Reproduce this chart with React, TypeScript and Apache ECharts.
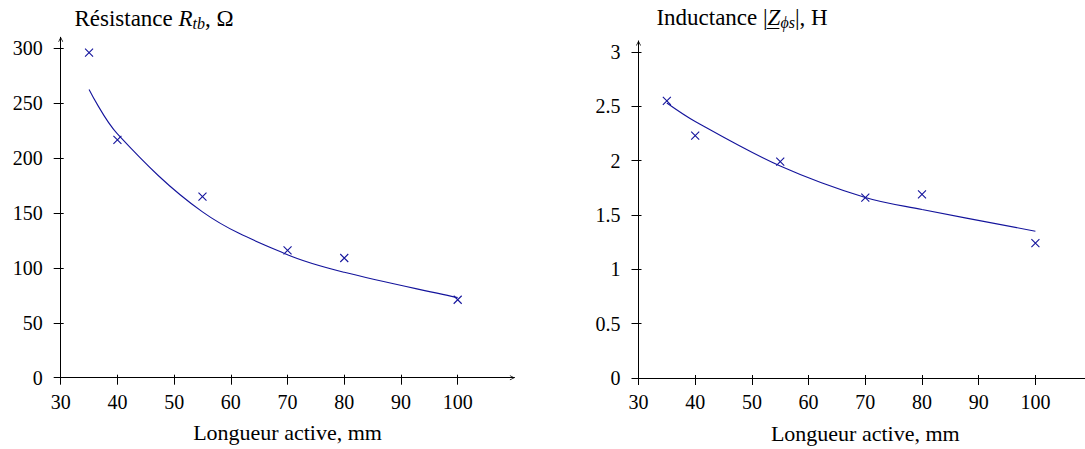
import React, { useEffect, useRef } from "react";
import * as echarts from "echarts";

// ---- data ----
const lengths = [35, 40, 55, 70, 80, 100];
const resistanceMeasured = [296, 216.5, 165, 116, 109, 71];
const resistanceFit = [262.5, 222, 151, 112, 96, 73];
const inductanceMeasured = [2.55, 2.23, 1.99, 1.66, 1.69, 1.24];
const inductanceFit = [2.53, 2.36, 1.95, 1.66, 1.55, 1.35];
const xTicks = [30, 40, 50, 60, 70, 80, 90, 100];
const rTicks = [0, 50, 100, 150, 200, 250, 300];
const lTicks = [0, 0.5, 1, 1.5, 2, 2.5, 3];
const xName = "Longueur active, mm";

const FONT = "'Liberation Serif', 'Times New Roman', serif";
const BLUE = "#14149c";
const ARROW = "path://M0,10L5,0L10,10L8.4,10L5,3L1.6,10Z";
const CROSS = "path://M0,0L10,10M10,0L0,10";
const CHART_W = 1100;
const TITLE_SIZE = 23;
const SUB_SIZE = 16;

function xAxes(gridIndex: number) {
  const base: any = {
    type: "value",
    gridIndex,
    min: 30,
    max: 110,
    position: "bottom",
    splitLine: { show: false },
  };
  return [
    {
      ...base,
      axisLine: {
        show: true,
        onZero: false,
        lineStyle: { color: "#000", width: 1 },
        symbol: ["none", ARROW],
        symbolSize: [7, 5],
        symbolOffset: [0, -2],
      },
      axisTick: { show: true, inside: false, length: 7, customValues: xTicks, lineStyle: { color: "#000", width: 1 } },
      axisLabel: { customValues: xTicks, margin: 14, fontFamily: FONT, fontSize: 20, lineHeight: 20, color: "#000" },
      name: xName,
      nameLocation: "middle",
      nameGap: 44,
      nameTextStyle: { fontFamily: FONT, fontSize: 22, lineHeight: 22, color: "#000" },
    },
    {
      ...base,
      axisLine: { show: false, onZero: false },
      axisTick: { show: true, inside: true, length: 3, customValues: xTicks, lineStyle: { color: "#000", width: 1 } },
      axisLabel: { show: false },
    },
  ];
}

function yAxes(gridIndex: number, max: number, ticks: number[]) {
  const base: any = {
    type: "value",
    gridIndex,
    min: 0,
    max,
    position: "left",
    splitLine: { show: false },
  };
  return [
    {
      ...base,
      axisLine: {
        show: true,
        onZero: false,
        lineStyle: { color: "#000", width: 1 },
        symbol: ["none", ARROW],
        symbolSize: [7, 5],
        symbolOffset: [0, -2],
      },
      axisTick: { show: true, inside: false, length: 7, customValues: ticks, lineStyle: { color: "#000", width: 1 } },
      axisLabel: { customValues: ticks, margin: 18, fontFamily: FONT, fontSize: 20, lineHeight: 20, color: "#000" },
    },
    {
      ...base,
      axisLine: { show: false, onZero: false },
      axisTick: { show: true, inside: true, length: 3, customValues: ticks, lineStyle: { color: "#000", width: 1 } },
      axisLabel: { show: false },
    },
  ];
}

function fitSeries(axisIndex: number, values: number[]) {
  return {
    type: "line",
    xAxisIndex: axisIndex,
    yAxisIndex: axisIndex,
    data: lengths.map((x, i) => [x, values[i]]),
    smooth: 0.35,
    symbol: "none",
    showSymbol: false,
    lineStyle: { color: BLUE, width: 1.1 },
    silent: true,
  };
}

function markSeries(axisIndex: number, values: number[]) {
  return {
    type: "scatter",
    xAxisIndex: axisIndex,
    yAxisIndex: axisIndex,
    data: lengths.map((x, i) => [x, values[i]]),
    symbol: CROSS,
    symbolSize: 8,
    itemStyle: { color: "rgba(0,0,0,0)", borderColor: BLUE, borderWidth: 1.1, opacity: 1 },
    silent: true,
  };
}

const richBase: any = {
  n: { fontFamily: FONT, fontSize: TITLE_SIZE, color: "#000" },
  i: { fontFamily: FONT, fontSize: TITLE_SIZE, fontStyle: "italic", color: "#000" },
  s: { fontFamily: FONT, fontSize: SUB_SIZE, fontStyle: "italic", color: "#000", padding: [10, 0, 0, 0] },
};

function measure(text: string, size: number, italic: boolean): number {
  const c = document.createElement("canvas").getContext("2d");
  if (!c) return text.length * size * 0.5;
  c.font = `${italic ? "italic " : ""}${size}px ${FONT}`;
  return c.measureText(text).width;
}

export default function App() {
  const ref = useRef<HTMLDivElement>(null);

  useEffect(() => {
    if (!ref.current) return;
    const chart = echarts.init(ref.current, undefined, { renderer: "svg" });

    // position of the underlined Z in the right title
    const rightCenter = 742;
    const p1 = "Inductance |";
    const p2 = "Z";
    const p3 = "ϕs";
    const p4 = "|, H";
    const w1 = measure(p1, TITLE_SIZE, false);
    const w2 = measure(p2, TITLE_SIZE, true);
    const w3 = measure(p3, SUB_SIZE, true);
    const w4 = measure(p4, TITLE_SIZE, false);
    const total = w1 + w2 + w3 + w4;
    const zStart = rightCenter - total / 2 + w1;

    const option: any = {
      animation: false,
      backgroundColor: "#fff",
      grid: [
        { left: 60.7, right: CHART_W - 514.4, top: 37.3, bottom: 71.3, containLabel: false },
        { left: 638.5, right: CHART_W - 1092.1, top: 41, bottom: 68, containLabel: false },
      ],
      xAxis: [...xAxes(0), ...xAxes(1)],
      yAxis: [...yAxes(0, 310, rTicks), ...yAxes(1, 3.1, lTicks)],
      series: [
        fitSeries(0, resistanceFit),
        markSeries(0, resistanceMeasured),
        fitSeries(2, inductanceFit),
        markSeries(2, inductanceMeasured),
      ],
      graphic: [
        {
          type: "text",
          x: 154,
          y: 18,
          style: {
            text: "{n|Résistance }{i|R}{s|tb}{n|, Ω}",
            rich: richBase,
            align: "center",
            verticalAlign: "middle",
            textAlign: "center",
            textVerticalAlign: "middle",
          },
        },
        {
          type: "text",
          x: rightCenter,
          y: 17,
          style: {
            text: `{n|${p1}}{i|${p2}}{s|${p3}}{n|${p4}}`,
            rich: richBase,
            align: "center",
            verticalAlign: "middle",
            textAlign: "center",
            textVerticalAlign: "middle",
          },
        },
        {
          type: "line",
          shape: { x1: zStart - 1, y1: 28.5, x2: zStart + w2 - 1, y2: 28.5 },
          style: { stroke: "#000", lineWidth: 1 },
        },
      ],
    };
    chart.setOption(option);
    return () => chart.dispose();
  }, []);

  return (
    <div style={{ position: "absolute", left: 0, top: 0, width: 1085, height: 449, overflow: "hidden", background: "#fff" }}>
      <div ref={ref} style={{ width: CHART_W, height: 449 }} />
    </div>
  );
}
